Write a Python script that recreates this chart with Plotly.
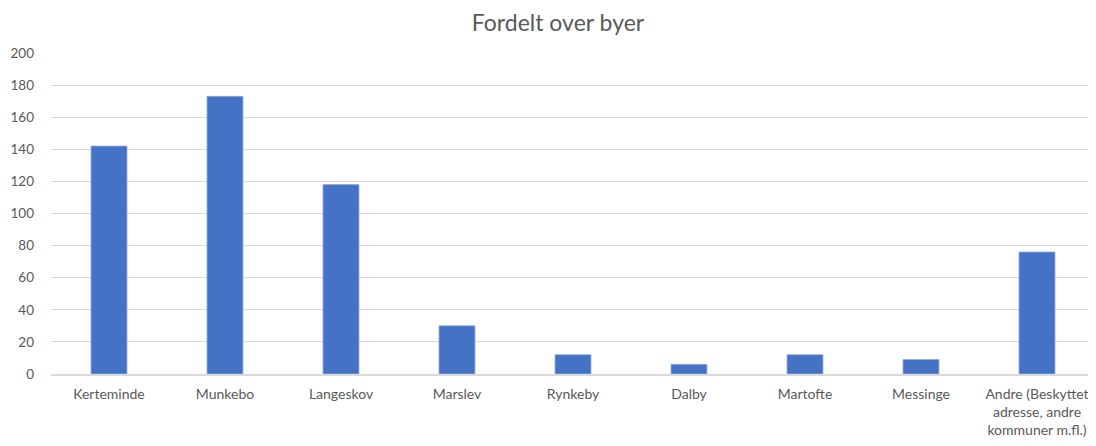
import plotly.graph_objects as go

categories = ["Kerteminde", "Munkebo", "Langeskov", "Marslev", "Rynkeby", "Dalby",
              "Martofte", "Messinge", "Andre (Beskyttet<br>adresse, andre<br>kommuner m.fl.)"]
values = [142, 173, 118, 30, 12, 6, 12, 9, 76]
y_ticks = [0, 20, 40, 60, 80, 100, 120, 140, 160, 180, 200]

fig = go.Figure(go.Bar(
    x=categories, y=values,
    marker=dict(color="#4472C4", line=dict(color="#8FAADC", width=0.8)),
))

fig.update_layout(
    width=1096, height=446,
    paper_bgcolor="white", plot_bgcolor="white",
    margin=dict(l=43, r=9, t=45, b=80, autoexpand=False),
    bargap=0.69,
    showlegend=False,
    font=dict(family="Lato, Open Sans, sans-serif", color="#595959", size=14),
    title=dict(text="Fordelt over byer", x=550 / 1096,
               xanchor="center", y=0.966, yanchor="middle",
               font=dict(size=23, color="#595959")),
    xaxis=dict(showgrid=False, showline=True, linecolor="#d9d9d9", linewidth=1.5,
               ticks="", ticklabelstandoff=6, tickfont=dict(size=14, color="#595959")),
    yaxis=dict(range=[0, 200], tickvals=y_ticks, showgrid=True, gridcolor="#d9d9d9",
               gridwidth=1.3, zeroline=False, showline=False, ticks="",
               ticklabelstandoff=16, tickfont=dict(size=13.5, color="#595959")),
)

fig.write_html("out.html")
